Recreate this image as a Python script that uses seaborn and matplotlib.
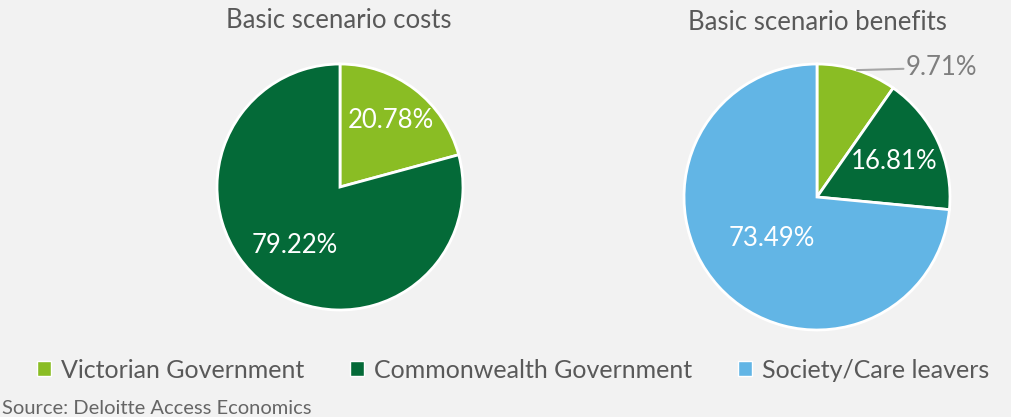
import numpy as np
import matplotlib
matplotlib.use("Agg")
import matplotlib.pyplot as plt
import seaborn as sns

sns.set_theme(style="white")
plt.rcParams['font.family'] = ['Lato', 'DejaVu Sans']

# Data
categories = ["Victorian Government", "Commonwealth Government", "Society/Care leavers"]
costs = [20.78, 79.22]
benefits = [9.71, 16.81, 73.49]
titles = ["Basic scenario costs", "Basic scenario benefits"]
source = "Source: Deloitte Access Economics"

colors = ["#8abd24", "#046a38", "#62b5e5"]
bg = "#f2f2f2"
W, H = 1012, 417

fig = plt.figure(figsize=(W / 100, H / 100), dpi=100, facecolor=bg)

def pie_axes(cx, cy, r):
    return fig.add_axes([(cx - r) / W, 1 - (cy + r) / H, 2 * r / W, 2 * r / H])

def draw_pie(ax, vals, cols, dists):
    ax.set_facecolor(bg)
    wedges, _ = ax.pie(vals, colors=cols, startangle=90, counterclock=False,
                       radius=1, wedgeprops=dict(edgecolor="white", linewidth=2))
    ax.set_xlim(-1.0, 1.0)
    ax.set_ylim(-1.0, 1.0)
    ax.axis("off")
    out = []
    for w, v, d in zip(wedges, vals, dists):
        ang = np.deg2rad((w.theta1 + w.theta2) / 2)
        x, y = np.cos(ang), np.sin(ang)
        if d is None:
            out.append((x, y, v))
        else:
            ax.text(d * x, d * y, f"{v:.2f}%", color="white", fontsize=18.5,
                    ha="center", va="center")
    return out

# Left pie
ax1 = pie_axes(340, 187, 123)
draw_pie(ax1, costs, colors[:2], [0.68, 0.6])
fig.text(339 / W, 1 - 20 / H, titles[0], ha="center", va="center",
         fontsize=18.5, color="#595959")

# Right pie
ax2 = pie_axes(817, 197, 133)
ext = draw_pie(ax2, benefits, colors, [None, 0.64, 0.46])
for x, y, v in ext:
    ax2.plot([x, 0.65], [y, y + 0.01], color="#a6a6a6", lw=1.5, clip_on=False)
    ax2.text(0.67, y + 0.02, f"{v:.2f}%", color="#7f7f7f", fontsize=18.5,
             ha="left", va="center", clip_on=False)
fig.text(817 / W, 1 - 22 / H, titles[1], ha="center", va="center",
         fontsize=18.5, color="#595959")

# Legend
handles = [plt.Rectangle((0, 0), 1, 1, facecolor=c, edgecolor="white", lw=1)
           for c in colors]
fig.legend(handles, categories, loc="center", bbox_to_anchor=(0.507, 1 - 370 / H),
           ncol=3, frameon=False, fontsize=18, labelcolor="#595959",
           handlelength=0.55, handleheight=0.55, handletextpad=0.4,
           columnspacing=1.85)

fig.text(2 / W, 1 - 408 / H, source, ha="left", va="center", fontsize=14.5,
         color="#666666")

fig.savefig("out.png", dpi=100, facecolor=bg)
